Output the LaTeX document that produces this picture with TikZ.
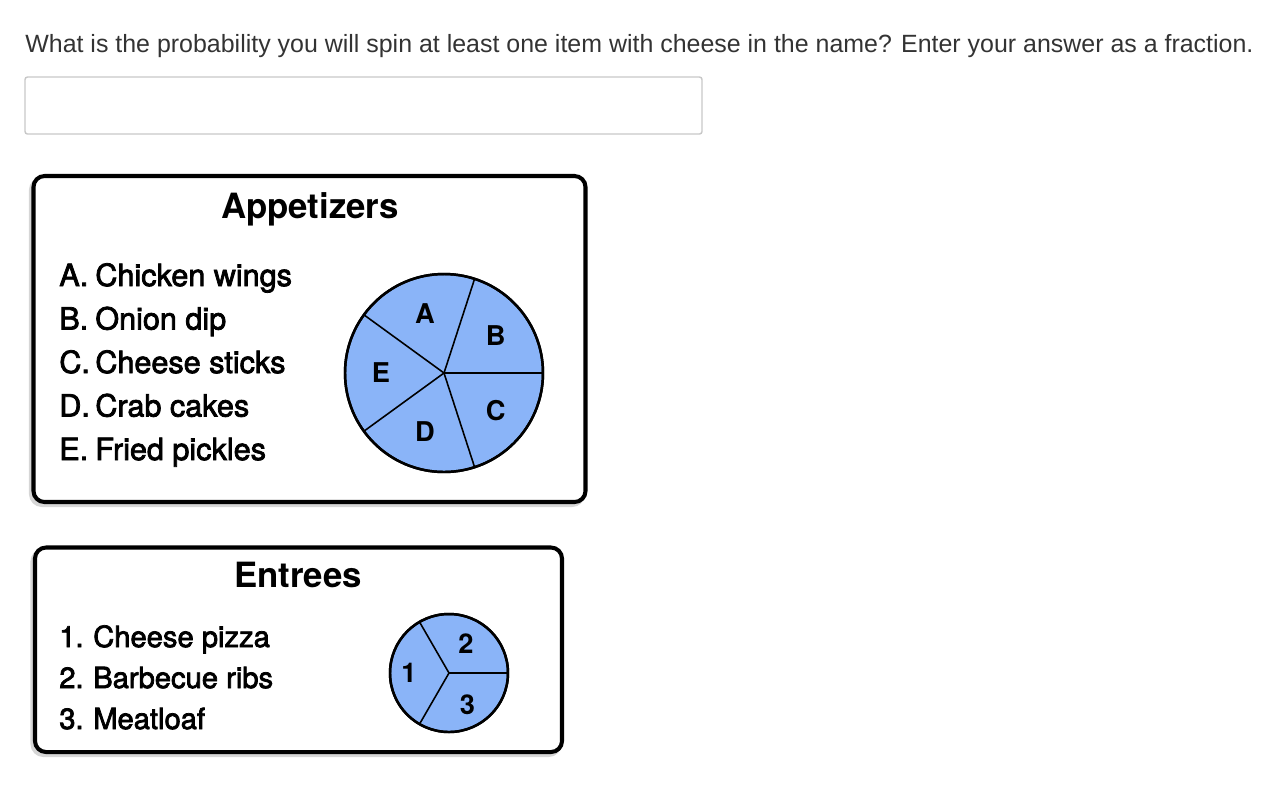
\documentclass[tikz,border=0pt]{standalone}
\usepackage{fontspec}
\setmainfont{Liberation Sans}
\newfontfamily\menufont{TeX Gyre Heros}
\newfontfamily\menumed{TeX Gyre Heros}[FakeBold=2.5]
\usetikzlibrary{calc}
\definecolor{spinblue}{RGB}{138,180,248}
\definecolor{asktext}{RGB}{51,51,51}
\tikzset{
	menubox/.style={line width=2.3pt, rounded corners=0.22cm},
	menushadow/.style={line width=2.3pt, rounded corners=0.22cm, color=black!16},
	menutitle/.style={font=\menufont\bfseries\fontsize{19.8}{22}\selectfont, anchor=base, inner sep=0pt},
	menuitem/.style={font=\menumed\fontsize{17.4}{19}\selectfont, anchor=base west, inner sep=0pt},
	entitem/.style={font=\menumed\fontsize{16.6}{19}\selectfont, anchor=base west, inner sep=0pt},
	spinlabel/.style={font=\menufont\bfseries\fontsize{15.5}{17}\selectfont, inner sep=0pt},
	spinline/.style={line width=0.9pt},
	spinrim/.style={line width=1.4pt, fill=spinblue}
}
\newcommand{\itemtag}[2][20.5pt]{\makebox[#1][l]{#2}}

\begin{document}
\begin{tikzpicture}[x=0.02cm, y=-0.02cm]
	%%%%% START %%%%%
	\useasboundingbox (0, 0) rectangle (1280, 796);
	
	\node[anchor=base west, inner sep=0pt, color=asktext, font=\fontsize{14.2}{16}\selectfont] (ask) at (25, 52) {What is the probability you will spin at least one item with cheese in the name? Enter your answer as a fraction.};
	\draw[line width=0.8pt, color=black!22, rounded corners=0.05cm] (25, 77) rectangle (702, 134);
	
	% appetizers card
	\draw[menushadow] (31, 179) rectangle (583, 505);
	\draw[menubox, fill=white] (33.5, 176) rectangle (585.5, 502);
	\node[menutitle] (apptitle) at (310, 218) {Appetizers};
	\node[menuitem] (appa) at (59, 286) {\itemtag{A.}Chicken wings};
	\node[menuitem] (appb) at (59, 329.5) {\itemtag{B.}Onion dip};
	\node[menuitem] (appc) at (59, 373) {\itemtag{C.}Cheese sticks};
	\node[menuitem] (appd) at (59, 416.5) {\itemtag{D.}Crab cakes};
	\node[menuitem] (appe) at (59, 460) {\itemtag{E.}Fried pickles};
	
	\coordinate (appmid) at (444, 373);
	\draw[spinrim] (appmid) circle [radius=99];
	\foreach \ang in {0, 72, 144, 216, 288}
		\draw[spinline] (appmid) -- ($(appmid)+(\ang:99)$);
	\draw[line width=1.4pt] (appmid) circle [radius=99];
	\node[spinlabel] (spina) at ($(appmid)+(252:62)$) {A};
	\node[spinlabel] (spinb) at ($(appmid)+(324:64)$) {B};
	\node[spinlabel] (spinc) at ($(appmid)+(36:64)$) {C};
	\node[spinlabel] (spind) at ($(appmid)+(108:62)$) {D};
	\node[spinlabel] (spine) at ($(appmid)+(180:63)$) {E};
	
	% entrees card
	\draw[menushadow] (32.5, 550.5) rectangle (559.5, 755);
	\draw[menubox, fill=white] (35, 547.5) rectangle (562, 752);
	\node[menutitle] (enttitle) at (298, 587) {Entrees};
	\node[entitem] (ent1) at (59, 647) {\itemtag[19.3pt]{1.}Cheese pizza};
	\node[entitem] (ent2) at (59, 688) {\itemtag[19.3pt]{2.}Barbecue ribs};
	\node[entitem] (ent3) at (59, 729) {\itemtag[19.3pt]{3.}Meatloaf};
	
	\coordinate (entmid) at (449, 673);
	\draw[spinrim] (entmid) circle [radius=59];
	\foreach \ang in {0, 120, 240}
		\draw[spinline] (entmid) -- ($(entmid)+(\ang:59)$);
	\draw[line width=1.4pt] (entmid) circle [radius=59];
	\node[spinlabel] (spin1) at ($(entmid)+(180:40)$) {1};
	\node[spinlabel] (spin2) at ($(entmid)+(300:34)$) {2};
	\node[spinlabel] (spin3) at ($(entmid)+(60:37)$) {3};
	
	%%%%% END %%%%%
\end{tikzpicture}
\end{document}
